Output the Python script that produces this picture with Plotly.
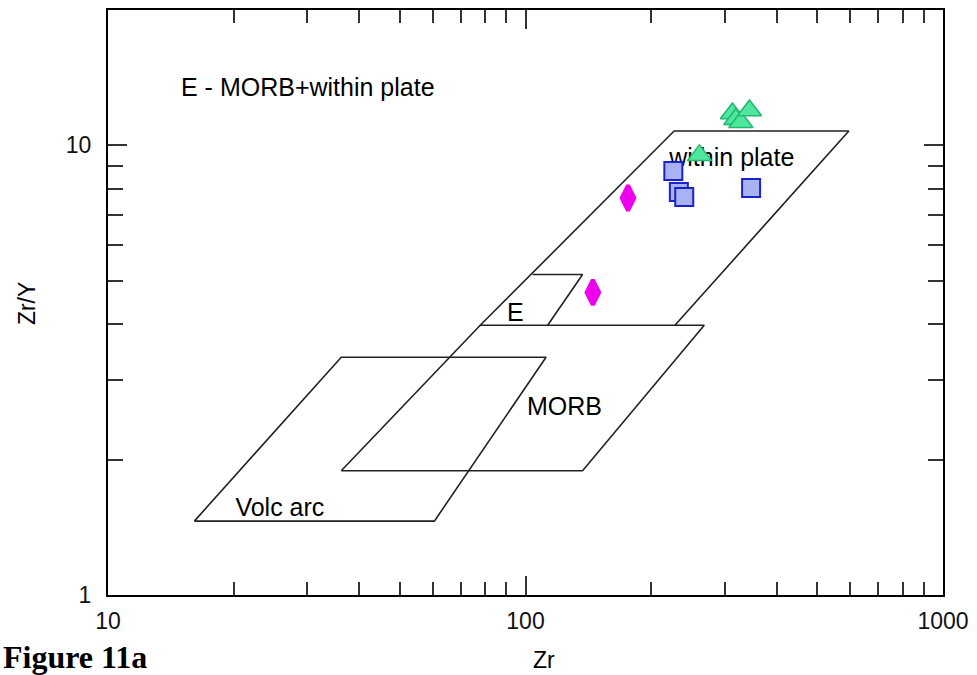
import plotly.graph_objects as go

# ---- Field boundaries (Zr ppm, Zr/Y) ----
volc_arc_zr = [16.1, 36.2, 112, 60.5, 16.1]
volc_arc_zry = [1.46, 3.38, 3.38, 1.46, 1.46]
morb_zr = [36.2, 77.9, 268, 137, 36.2]
morb_zry = [1.89, 3.98, 3.98, 1.89, 1.89]
wp_zr = [77.9, 227, 595, 228]
wp_zry = [3.98, 10.76, 10.76, 3.98]
e_zr = [104, 137, 113]
e_zry = [5.16, 5.16, 3.98]

# ---- Samples ----
diamond_zr = [176, 145]
diamond_zry = [7.64, 4.71]
square_zr = [226, 233, 240, 347]
square_zry = [8.77, 7.88, 7.68, 8.04]
triangle_zr = [261, 313, 319, 328, 344]
triangle_zry = [9.50, 11.77, 11.43, 11.26, 11.95]

# ---- Field labels ----
field_labels = ["E - MORB+within plate", "within plate", "E", "MORB", "Volc arc"]
label_zr = [30.1, 312, 94.5, 124, 25.8]
label_zry = [13.3, 9.28, 4.21, 2.59, 1.55]

# ---- Axis ticks ----
x_major = [10, 100, 1000]
x_minor = [20, 30, 40, 50, 60, 70, 80, 90, 200, 300, 400, 500, 600, 700, 800, 900]
y_major = [1, 10]
y_minor = [2, 3, 4, 5, 6, 7, 8, 9]

FONT = "Liberation Sans, Arial, sans-serif"
LINE = dict(color="#222222", width=1.6)

fig = go.Figure()
for xs, ys in [(volc_arc_zr, volc_arc_zry), (morb_zr, morb_zry), (wp_zr, wp_zry), (e_zr, e_zry)]:
    fig.add_trace(go.Scatter(x=xs, y=ys, mode="lines", line=LINE, showlegend=False, hoverinfo="skip"))

fig.add_trace(go.Scatter(x=label_zr, y=label_zry, mode="text", text=field_labels,
                         textposition="middle center",
                         textfont=dict(family=FONT, size=25, color="black"),
                         showlegend=False, hoverinfo="skip"))

fig.add_trace(go.Scatter(x=diamond_zr, y=diamond_zry, mode="markers",
                         marker=dict(symbol="diamond-tall", size=18, color="#ee00ee",
                                     line=dict(color="#ee00ee", width=4)),
                         showlegend=False))
fig.add_trace(go.Scatter(x=square_zr, y=square_zry, mode="markers",
                         marker=dict(symbol="square", size=18, color="#aab2f6",
                                     line=dict(color="#1a22cc", width=2)),
                         showlegend=False))
fig.add_trace(go.Scatter(x=triangle_zr, y=triangle_zry, mode="markers",
                         marker=dict(symbol="triangle-up", size=21, color="#4fe6a0",
                                     line=dict(color="#22b86e", width=1.5)),
                         showlegend=False))

axis_common = dict(
    type="log", showline=True, linewidth=2, linecolor="black", mirror="all",
    ticks="inside", ticklen=19, tickwidth=1.5, tickcolor="#333333",
    showgrid=False, zeroline=False,
    tickfont=dict(family=FONT, size=23, color="#111111"),
)

fig.update_xaxes(**axis_common, range=[1, 3], tickmode="array", tickvals=x_major,
                 ticktext=[str(v) for v in x_major], ticklabelstandoff=4,
                 minor=dict(tickmode="array", tickvals=x_minor, ticks="inside", ticklen=13,
                            tickwidth=1.5, tickcolor="#333333", showgrid=False))
fig.update_yaxes(**axis_common, range=[0, 1.30103], tickmode="array", tickvals=y_major,
                 ticktext=[str(v) for v in y_major], ticklabelstandoff=10,
                 minor=dict(tickmode="array", tickvals=y_minor, ticks="inside", ticklen=15,
                            tickwidth=1.5, tickcolor="#333333", showgrid=False))

fig.update_layout(
    width=977, height=675,
    margin=dict(l=108, r=33, t=8, b=80),
    paper_bgcolor="white", plot_bgcolor="white",
    showlegend=False,
    annotations=[
        dict(text="Zr", xref="paper", yref="paper", x=0.5227, y=-0.1107,
             xanchor="center", yanchor="middle", showarrow=False,
             font=dict(family=FONT, size=23, color="black")),
        dict(text="Zr/Y", xref="paper", yref="paper", x=-0.0969, y=0.4974,
             xanchor="center", yanchor="middle", textangle=-90, showarrow=False,
             font=dict(family=FONT, size=23, color="black")),
        dict(text="<b>Figure 11a</b>", xref="paper", yref="paper", x=-0.1280, y=-0.1056,
             xanchor="left", yanchor="middle", showarrow=False,
             font=dict(family="Liberation Serif, Times New Roman, serif", size=32, color="black")),
    ],
)

fig.write_html("out.html", config={"displayModeBar": False},
               post_script="document.body.style.margin='0';document.body.style.overflow='hidden';")
